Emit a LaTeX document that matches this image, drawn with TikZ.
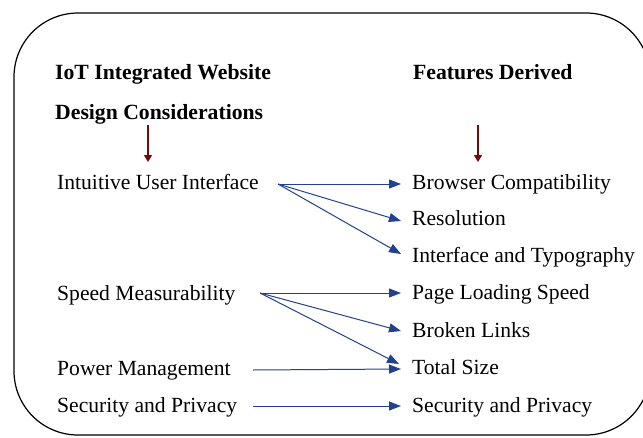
\documentclass[tikz,border=0pt]{standalone}
\usepackage{fontspec}
\setmainfont{Liberation Serif}
\usetikzlibrary{arrows.meta}
\definecolor{flowblue}{RGB}{35,65,145}
\definecolor{darkred}{RGB}{115,10,10}
\begin{document}
\begin{tikzpicture}[x=1pt,y=-1pt,
  txt/.style={anchor=base west,inner sep=0pt,font=\fontsize{21.6}{24}\selectfont},
  head/.style={txt,font=\fontsize{21.7}{24}\selectfont\bfseries},
  flow/.style={draw=flowblue,line width=1pt,-{Triangle[length=12pt,width=9pt]}},
  down/.style={draw=darkred,line width=1.4pt,-{Triangle[length=7pt,width=8pt]}}]
\useasboundingbox (0,0) rectangle (643,437);
\begin{scope}
\clip (0,0) rectangle (643,437);
\draw[line width=1.2pt,rounded corners=64pt] (14,13) rectangle (650,435);
\end{scope}
% headings
\node[head] (h1) at (55,79) {IoT Integrated Website};
\node[head] (h2) at (55,119) {Design Considerations};
\node[head] (h3) at (413,79) {Features Derived};
\coordinate (d1s) at (148,125);
\coordinate (d1e) at (148,162);
\coordinate (d2s) at (478,125);
\coordinate (d2e) at (478,162);
\draw[down] (d1s) -- (d1e);
\draw[down] (d2s) -- (d2e);
% left
\node[txt] (iui) at (57,189) {Intuitive User Interface};
\node[txt] (sm) at (57,300) {Speed Measurability};
\node[txt] (pm) at (57,375) {Power Management};
\node[txt] (sp) at (57,412) {Security and Privacy};
% right
\node[txt] (bc) at (412,189) {Browser Compatibility};
\node[txt] (res) at (412,225) {Resolution};
\node[txt] (it) at (412,262) {Interface and Typography};
\node[txt] (pls) at (412,299) {Page Loading Speed};
\node[txt] (bl) at (412,337) {Broken Links};
\node[txt] (ts) at (412,374) {Total Size};
\node[txt] (sp2) at (412,412) {Security and Privacy};
% sources and targets
\coordinate (s1) at (278,184);
\coordinate (s2) at (260,293);
\coordinate (s3) at (253,370);
\coordinate (s4) at (253,406);
\coordinate (t1) at (401,184);
\coordinate (t2) at (401,221);
\coordinate (t3) at (401,254);
\coordinate (t4) at (401,293);
\coordinate (t5) at (401,331);
\coordinate (t6) at (399,364);
\coordinate (t7) at (401,369);
\coordinate (t8) at (401,406);
\draw[flow] (s1) -- (t1);
\draw[flow] (s1) -- (t2);
\draw[flow] (s1) -- (t3);
\draw[flow] (s2) -- (t4);
\draw[flow] (s2) -- (t5);
\draw[flow] (s2) -- (t6);
\draw[flow] (s3) -- (t7);
\draw[flow] (s4) -- (t8);
\end{tikzpicture}
\end{document}
